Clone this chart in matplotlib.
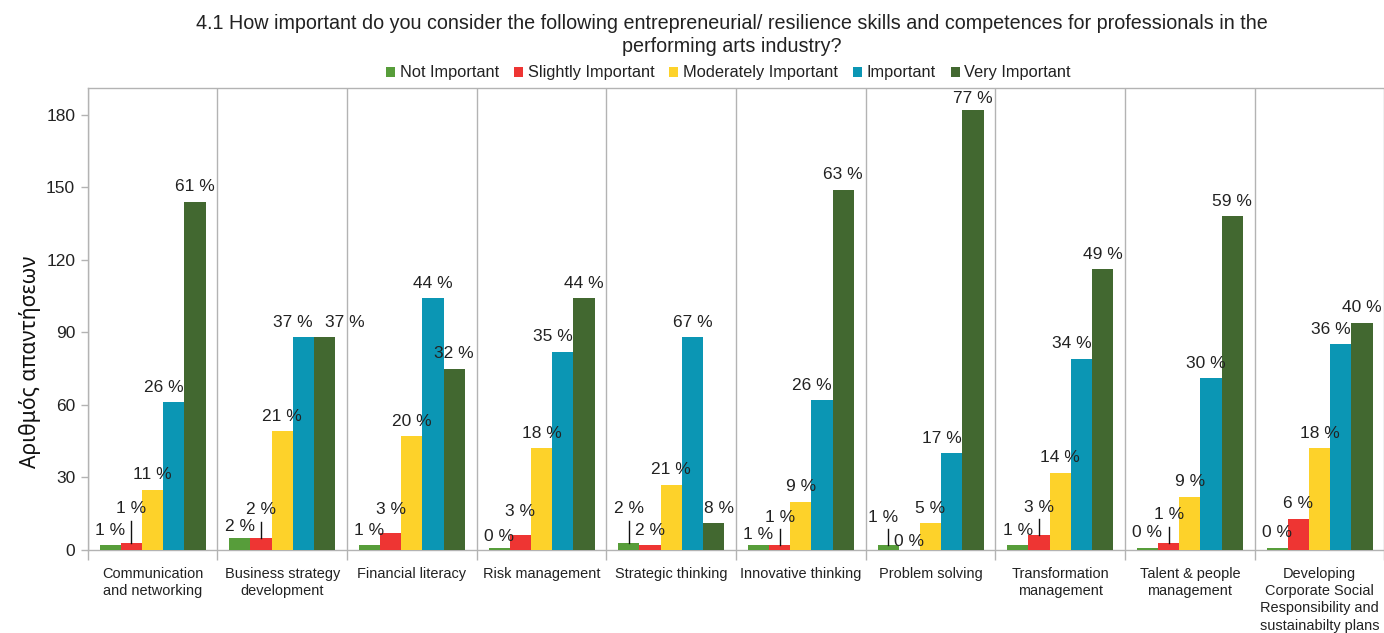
import matplotlib
matplotlib.use("Agg")
import matplotlib.pyplot as plt
from matplotlib import font_manager as fm
import numpy as np

# ---------------- data ----------------
categories = [
    "Communication\nand networking",
    "Business strategy\ndevelopment",
    "Financial literacy",
    "Risk management",
    "Strategic thinking",
    "Innovative thinking",
    "Problem solving",
    "Transformation\nmanagement",
    "Talent & people\nmanagement",
    "Developing\nCorporate Social\nResponsibility and\nsustainabilty plans",
]
series_names = ["Not Important", "Slightly Important", "Moderately Important",
                "Important", "Very Important"]

not_important = [2, 5, 2, 1, 3, 2, 2, 2, 1, 1]
slightly_important = [3, 5, 7, 6, 2, 2, 0, 6, 3, 13]
moderately_important = [25, 49, 47, 42, 27, 20, 11, 32, 22, 42]
important = [61, 88, 104, 82, 88, 62, 40, 79, 71, 85]
very_important = [144, 88, 75, 104, 11, 149, 182, 116, 138, 94]

y_ticks = [0, 30, 60, 90, 120, 150, 180]

title = ("4.1 How important do you consider the following entrepreneurial/ resilience skills "
         "and competences for professionals in the\nperforming arts industry?")
y_label = "Αριθμός απαντήσεων"

# ---------------- style ----------------
colors = ["#579d3a", "#ee3533", "#fdd22a", "#0b96b4", "#426830"]

names = {f.name for f in fm.fontManager.ttflist}
NARROW = "Liberation Sans Narrow" if "Liberation Sans Narrow" in names else "Liberation Sans"
REG = "Liberation Sans"
narrow_scale = 1.0 if NARROW == "Liberation Sans Narrow" else 0.84

# label nudges (pixels): (category, series) -> (dx, center height above bar top, leader)
LABEL_NUDGES = {
    (0, 1): (0, 34, True), (0, 3): (-10, 15, False),
    (1, 0): (0, 11, False), (1, 1): (0, 28, True), (1, 3): (-11, 15, False), (1, 4): (20, 15, False),
    (2, 1): (0, 24, False),
    (3, 0): (0, 11, False), (3, 1): (0, 24, False), (3, 3): (-10, 15, False),
    (4, 0): (0, 34, True), (4, 4): (5, 15, False),
    (5, 0): (0, 11, False), (5, 1): (0, 28, True), (5, 3): (-10, 15, False),
    (6, 0): (-5, 28, True), (6, 1): (0, 9, False), (6, 3): (-10, 15, False), (6, 4): (0, 11, False),
    (7, 1): (0, 28, True), (7, 3): (-10, 15, False),
    (8, 1): (0, 28, True), (8, 3): (-5, 15, False),
    (9, 3): (-10, 15, False),
}

W, H, DPI = 13.84, 6.33, 100
fig = plt.figure(figsize=(W, H), dpi=DPI)
ax = fig.add_axes([87.7 / 1384, 83 / 633, (1384.4 - 87.7) / 1384, 462 / 633])

data = np.array([not_important, slightly_important, moderately_important,
                 important, very_important])
totals = data.sum(axis=0)
n_cat = len(categories)
x = np.arange(n_cat)
bw = 0.1635

ax.set_xlim(-0.5, n_cat - 0.5)
ax.set_ylim(0, 191)

for j in range(5):
    ax.bar(x + (j - 2) * bw, data[j], width=bw, color=colors[j],
           label=series_names[j], zorder=3, linewidth=0)

fig.canvas.draw()
inv = ax.transData.inverted()
for i in range(n_cat):
    for j in range(5):
        v = data[j, i]
        pct = int(round(100.0 * v / totals[i]))
        xc = x[i] + (j - 2) * bw
        dx, dy, leader = LABEL_NUDGES.get((i, j), (0, 15, False))
        ax.annotate(f"{pct} %", xy=(xc, v), xytext=(dx, dy),
                    textcoords="offset pixels", ha="center", va="center",
                    fontsize=12.5, family=REG, color="#222222", zorder=5)
        if leader:
            p0 = ax.transData.transform((xc, v))
            p1 = inv.transform(p0 + np.array([0, dy - 12]))
            ax.plot([xc, xc], [v, p1[1]], color="#111111", lw=1.0, zorder=4)

# axes styling
ax.set_xticks(x)
ax.set_xticklabels(categories, family=NARROW, fontsize=12.4 * narrow_scale,
                   color="#222222", linespacing=1.3, va="top")
ax.tick_params(axis="x", which="major", length=0, pad=12)
ax.set_xticks(np.arange(-0.5, n_cat, 1.0), minor=True)
ax.tick_params(axis="x", which="minor", length=7, color="#b3b3b3", width=1)
ax.grid(axis="x", which="minor", color="#b3b3b3", lw=1.0, zorder=0)
ax.grid(axis="x", which="major", visible=False)

ax.set_yticks(y_ticks)
ax.set_yticklabels([str(t) for t in y_ticks], family=REG, fontsize=12.5, color="#222222")
ax.tick_params(axis="y", length=5, color="#b3b3b3", width=1, pad=4)

for s in ["left", "bottom", "top"]:
    ax.spines[s].set_color("#b3b3b3")
    ax.spines[s].set_linewidth(1.0)
ax.spines["right"].set_visible(False)

fig.text(30 / 1384, 1 - 362 / 633, y_label, rotation=90, ha="center", va="center",
         fontsize=15.2, family=["Noto Sans", "DejaVu Sans"], color="#111111")

fig.text(732 / 1384, 1 - 35 / 633, title, ha="center", va="center",
         fontsize=14.2, family=REG, color="#222222", linespacing=1.3)

handles, labels = ax.get_legend_handles_labels()
leg = fig.legend(handles, labels, loc="center", bbox_to_anchor=(728.5 / 1384, 1 - 73 / 633),
                 ncol=5, frameon=False, handlelength=0.55, handleheight=0.55,
                 handletextpad=0.3, columnspacing=0.9,
                 prop={"family": REG, "size": 11.8})
for t in leg.get_texts():
    t.set_color("#222222")

fig.savefig("out.png", dpi=DPI)
